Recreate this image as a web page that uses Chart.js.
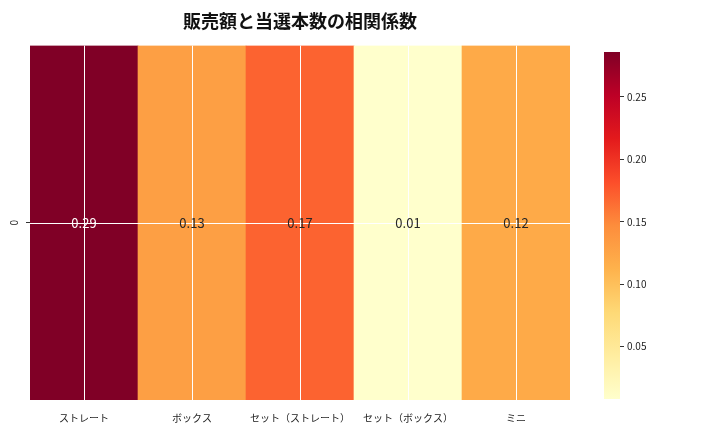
<!DOCTYPE html>
<html><head><meta charset="utf-8">
<script src="https://cdn.jsdelivr.net/npm/chart.js@4"></script>
<style>body{margin:0;background:#fff}#wrap{position:relative;width:720px;height:432px}
canvas{position:absolute;top:0}</style></head>
<body><div id="wrap">
<div style="position:absolute;left:0;top:0;width:720px;height:432px"><canvas id="main"></canvas></div>
<div style="position:absolute;left:590px;top:0;width:130px;height:432px"><canvas id="cbar"></canvas></div>
</div>
<script>
// data
const categories = ['ストレート', 'ボックス', 'セット（ストレート）', 'セット（ボックス）', 'ミニ'];
const values = [0.286, 0.13, 0.17, 0.008, 0.12];
const labels = ['0.29', '0.13', '0.17', '0.01', '0.12'];
const cbTicks = [0.05, 0.10, 0.15, 0.20, 0.25];

const FONT = "'Noto Sans CJK JP', 'Noto Sans', sans-serif";
Chart.defaults.font.family = FONT;
Chart.defaults.color = '#222';

// YlOrRd
const stops = ['#ffffcc','#ffeda0','#fed976','#feb24c','#fd8d3c','#fc4e2a','#e31a1c','#bd0026','#800026'];
const vmin = Math.min(...values), vmax = Math.max(...values);
function hex(h) { return [1,3,5].map(i => parseInt(h.substr(i,2),16)); }
function cmap(v) {
    let t = (v - vmin) / (vmax - vmin);
    t = Math.max(0, Math.min(1, t)) * (stops.length - 1);
    let i = Math.min(Math.floor(t), stops.length - 2), f = t - i;
    let a = hex(stops[i]), b = hex(stops[i+1]);
    return 'rgb(' + a.map((c,k) => Math.round(c + (b[k]-c)*f)).join(',') + ')';
}

const overlay = {
    id: 'overlay',
    afterDatasetsDraw(chart) {
        const c = chart.ctx, x = chart.scales.x, y = chart.scales.y, a = chart.chartArea;
        c.save();
        c.strokeStyle = '#fff'; c.lineWidth = 1;
        const yc = y.getPixelForValue(0.5);
        c.beginPath();
        categories.forEach((_, i) => {
            const px = Math.round(x.getPixelForValue(i)) + 0.5;
            c.moveTo(px, a.top); c.lineTo(px, a.bottom);
        });
        c.moveTo(a.left, Math.round(yc) + 0.5); c.lineTo(a.right, Math.round(yc) + 0.5);
        c.stroke();
        c.font = '13px ' + FONT; c.textAlign = 'center'; c.textBaseline = 'middle';
        values.forEach((v, i) => {
            c.fillStyle = v > 0.2 ? '#fff' : '#262626';
            c.fillText(labels[i], x.getPixelForValue(i), yc);
        });
        c.restore();
    }
};

new Chart(document.getElementById('main'), {
    type: 'bar',
    data: {
        labels: categories,
        datasets: [{
            data: categories.map(() => 1),
            backgroundColor: values.map(cmap),
            barPercentage: 1, categoryPercentage: 1, borderWidth: 0
        }]
    },
    options: {
        responsive: true, maintainAspectRatio: false, animation: false,
        layout: { padding: { left: 0, right: 150, top: 0, bottom: 4 } },
        plugins: {
            legend: { display: false }, tooltip: { enabled: false },
            title: { display: true, fullSize: false, text: '販売額と当選本数の相関係数',
                     font: { size: 18, weight: 'bold' }, color: '#111', padding: { top: 10, bottom: 14 } }
        },
        scales: {
            x: { grid: { display: false }, border: { display: false },
                 ticks: { font: { size: 10 }, color: '#222', padding: 4 } },
            y: { min: 0, max: 1, border: { display: false },
                 afterBuildTicks: s => { s.ticks = [{ value: 0.5 }]; },
                 grid: { drawOnChartArea: false, tickLength: 4, color: '#333' },
                 ticks: { callback: () => '' },
                 title: { display: true, text: '0', font: { size: 10 }, color: '#222', padding: { top: 8, bottom: 0 } } }
        }
    },
    plugins: [overlay]
});

new Chart(document.getElementById('cbar'), {
    type: 'bar',
    data: {
        labels: [''],
        datasets: [{
            data: [[vmin, vmax]],
            backgroundColor: ctx => {
                const a = ctx.chart.chartArea;
                if (!a) return stops[0];
                const g = ctx.chart.ctx.createLinearGradient(0, a.bottom, 0, a.top);
                stops.forEach((s, i) => g.addColorStop(i / (stops.length - 1), s));
                return g;
            },
            barPercentage: 1, categoryPercentage: 1, borderWidth: 0, borderSkipped: false
        }]
    },
    options: {
        responsive: true, maintainAspectRatio: false, animation: false,
        layout: { padding: { left: 14, top: 52, bottom: 33, right: 0 } },
        plugins: { legend: { display: false }, tooltip: { enabled: false } },
        scales: {
            x: { display: false },
            y: { position: 'right', min: vmin, max: vmax, border: { display: false },
                 afterBuildTicks: s => { s.ticks = cbTicks.map(v => ({ value: v })); },
                 afterFit: s => { s.width = 100; },
                 grid: { drawOnChartArea: false, tickLength: 4, color: '#333' },
                 ticks: { font: { size: 10 }, color: '#222', padding: 3, callback: v => v.toFixed(2) } }
        }
    }
});
</script>
</body></html>
